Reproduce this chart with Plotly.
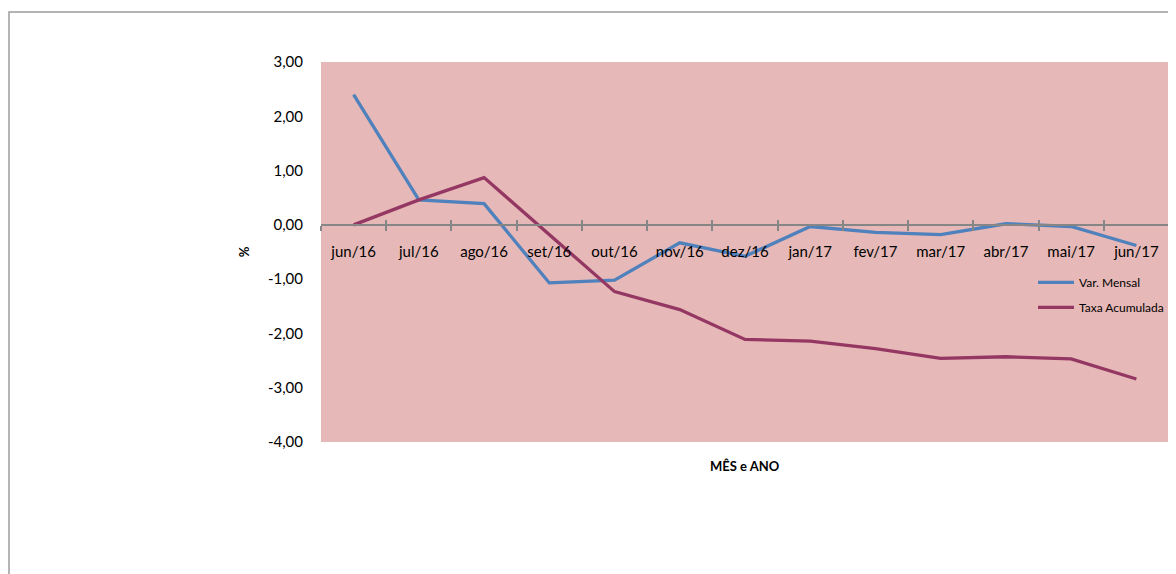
import plotly.graph_objects as go

categorias = ["jun/16", "jul/16", "ago/16", "set/16", "out/16", "nov/16", "dez/16",
              "jan/17", "fev/17", "mar/17", "abr/17", "mai/17", "jun/17"]
var_mensal = [2.40, 0.46, 0.39, -1.07, -1.02, -0.33, -0.58, -0.03, -0.14, -0.18, 0.02, -0.03, -0.38]
taxa_acumulada = [0.00, 0.46, 0.87, -0.18, -1.23, -1.56, -2.11, -2.14, -2.28, -2.46, -2.43, -2.47, -2.84]
y_ticks = [3, 2, 1, 0, -1, -2, -3, -4]
y_ticktext = [f"{v:.2f}".replace(".", ",") for v in y_ticks]

# page body has an 8px margin; compensate so the figure fills the 1176x574 window
OFF = 8
W, H = 1176 - OFF, 574 - OFF
ML, MR, MT, MB = 321 - OFF, 7, 62 - OFF, 132
PW, PH = W - ML - MR, H - MT - MB
YMIN, YMAX = -4, 3

fig = go.Figure()
fig.add_trace(go.Scatter(x=categorias, y=var_mensal, mode="lines", name="Var. Mensal",
                         line=dict(color="#4F81BD", width=3.3), legendgroup="a"))
fig.add_trace(go.Scatter(x=categorias, y=taxa_acumulada, mode="lines", name="Taxa Acumulada",
                         line=dict(color="#953763", width=3.3), legendgroup="b"))
# invisible trace for the upper half of the crossing ticks
fig.add_trace(go.Scatter(x=categorias, y=[None]*len(categorias), xaxis="x2", showlegend=False,
                         hoverinfo="skip"))

zero_frac = (0 - YMIN) / (YMAX - YMIN)

fig.update_layout(
    width=W, height=H,
    margin=dict(l=ML, r=MR, t=MT, b=MB),
    paper_bgcolor="white",
    plot_bgcolor="#E6B8B7",
    font=dict(family="Lato, Open Sans, sans-serif", size=15, color="#000000"),
    xaxis=dict(
        type="category", anchor="free", position=zero_frac,
        range=[-0.5, len(categorias) - 0.5],
        showline=True, linecolor="#868686", linewidth=1.5,
        ticks="outside", ticklen=5, tickcolor="#868686", tickwidth=1.5,
        tickson="boundaries", showgrid=False, zeroline=False,
        ticklabelstandoff=13, tickfont=dict(size=15),
        title=None,
    ),
    xaxis2=dict(
        type="category", overlaying="x", anchor="free", position=zero_frac,
        range=[-0.5, len(categorias) - 0.5], matches="x",
        showline=False, ticks="inside", ticklen=5, tickcolor="#868686", tickwidth=1.5,
        tickson="boundaries", showticklabels=False, showgrid=False, zeroline=False,
    ),
    yaxis=dict(
        range=[YMIN, YMAX], tickvals=y_ticks, ticktext=y_ticktext,
        showgrid=False, zeroline=False, showline=False, ticks="",
        ticklabelstandoff=17, tickfont=dict(size=15),
        title=dict(text="<b>%</b>", font=dict(size=13), standoff=15),
    ),
    legend=dict(
        x=1.0, y=0.458, xanchor="right", yanchor="top",
        bgcolor="rgba(0,0,0,0)", font=dict(size=12),
        traceorder="grouped", tracegroupgap=6, itemwidth=36,
    ),
    annotations=[dict(text="<b>MÊS e ANO</b>", xref="paper", yref="paper",
                      x=0.5, y=-0.037, xanchor="center", yanchor="top",
                      showarrow=False, font=dict(size=13))],
    shapes=[dict(type="rect", xref="paper", yref="paper",
                 x0=(1 - ML) / PW, x1=(W + 10 - ML) / PW,
                 y0=-(MB + 10) / PH, y1=1 + (MT - (12 - OFF)) / PH,
                 line=dict(color="#9C9C9C", width=1.5), fillcolor="rgba(0,0,0,0)",
                 layer="below")],
)

fig.write_html("out.html")
